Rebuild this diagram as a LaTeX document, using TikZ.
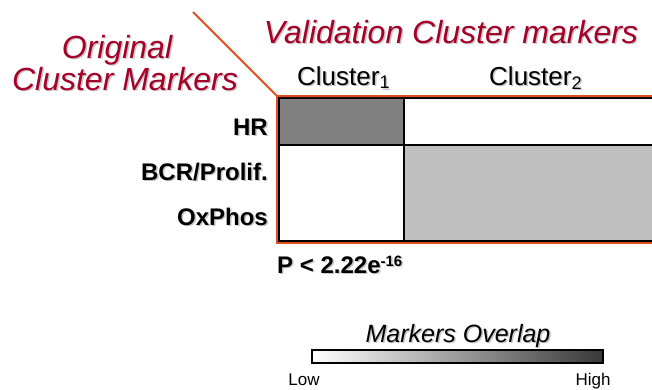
\documentclass[tikz,border=0pt]{standalone}
\usepackage{fontspec}
\setmainfont{Liberation Sans}
\definecolor{titlered}{RGB}{165,0,40}
\definecolor{edgeorange}{RGB}{222,80,30}
\newcommand{\shd}[1]{\makebox[0pt][l]{\hspace{1.5pt}\raisebox{-1.5pt}{\textcolor{black!22}{#1}}}#1}
\tikzset{
    title/.style={font=\fontsize{32}{33}\selectfont\itshape, text=titlered, inner sep=0pt, anchor=base},
    colhead/.style={font=\fontsize{26}{28}\selectfont, inner sep=0pt, anchor=base west},
    rowhead/.style={font=\fontsize{24}{26}\selectfont\bfseries, inner sep=0pt, anchor=base east},
    cell/.style={draw=black, line width=2pt},
    edge/.style={draw=edgeorange, line width=2pt},
}
\begin{document}
\begin{tikzpicture}[x=1pt,y=-1pt]
        \clip (0,0) rectangle (652,389);
        \fill[white] (0,0) rectangle (652,389);

        % Titles
        \node[title] (valid) at (451,43) {\shd{Validation Cluster markers}};
        \node[title] (orig) at (117,58) {\shd{Original}};
        \node[title] (origb) at (125,90) {\shd{Cluster Markers}};

        % Cells
        \fill[black!50] (279,98) rectangle (404,145);
        \fill[black!25] (404,145) rectangle (670,241);
        \draw[cell] (279,98) rectangle (670,241);
        \draw[cell] (404,98) -- (404,241);
        \draw[cell] (279,145) -- (670,145);

        % Orange frame
        \coordinate (tip) at (193,12);
        \coordinate (corner) at (277,96);
        \draw[edge] (tip) -- (corner) -- (670,96);
        \draw[edge] (corner) -- (277,243) -- (670,243);

        % Column heads
        \node[colhead] (c1) at (297,85) {\shd{Cluster$_{\mathrm{1}}$}};
        \node[colhead] (c2) at (489,85) {\shd{Cluster$_{\mathrm{2}}$}};

        % Row heads
        \foreach \y/\val/\nm in {
            135/{HR}/hr,
            180/{BCR/Prolif.}/bcr,
            225/{OxPhos}/ox
            } {
            \node[rowhead] (\nm) at (268,\y) {\shd{\val}};
        }
        \node[rowhead, anchor=base west] (pval) at (277,273)
            {\shd{P < 2.22e\raisebox{7pt}{\fontsize{15}{16}\selectfont -16}}};

        % Colour bar
        \node[font=\fontsize{25}{26}\selectfont\itshape, inner sep=0pt, anchor=base] (overlap)
            at (458,342) {\shd{Markers Overlap}};
        \shade[left color=white, right color=black!78] (312,350) rectangle (603,363);
        \draw[line width=1.5pt] (312,350) rectangle (603,363);
        \node[font=\fontsize{17}{18}\selectfont, inner sep=0pt, anchor=base] (low) at (304,385) {Low};
        \node[font=\fontsize{17}{18}\selectfont, inner sep=0pt, anchor=base] (high) at (593,385) {High};
    \end{tikzpicture}
\end{document}
